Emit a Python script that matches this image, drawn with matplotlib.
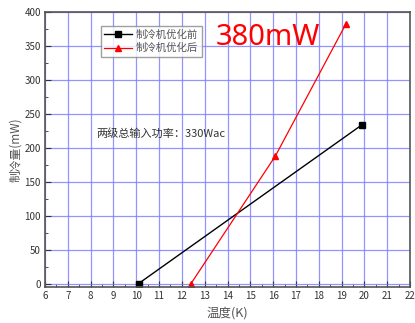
import matplotlib
matplotlib.use("Agg")
import matplotlib.pyplot as plt
from matplotlib.ticker import MultipleLocator

plt.rcParams['font.family'] = ['Noto Sans CJK SC', 'DejaVu Sans']

# data
temp_before = [10.1, 19.9]
cool_before = [0, 234]
temp_after = [12.4, 16.1, 19.2]
cool_after = [0, 188, 383]

label_before = "制冷机优化前"
label_after = "制冷机优化后"
note = "两级总输入功率：330Wac"
peak = "380mW"

fig = plt.figure(figsize=(4.15, 3.23), dpi=100)
ax = fig.add_axes([45 / 415, 36 / 323, 365 / 415, 275 / 323])

ax.set_xlim(6, 22)
ax.set_ylim(-5, 400)
ax.xaxis.set_major_locator(MultipleLocator(1))
ax.xaxis.set_minor_locator(MultipleLocator(0.5))
ax.yaxis.set_major_locator(MultipleLocator(50))
ax.yaxis.set_minor_locator(MultipleLocator(25))

ax.grid(True, which='major', color='#7a7aff', linewidth=0.9, alpha=0.8)
ax.set_axisbelow(True)

ax.plot(temp_before, cool_before, color='black', lw=1, marker='s', ms=4.5,
        label=label_before)
ax.plot(temp_after, cool_after, color='red', lw=0.9, marker='^', ms=5,
        label=label_after)

ax.tick_params(which='both', direction='in', top=False, right=False,
               labelsize=7, colors='#333333', pad=3)
ax.tick_params(which='major', length=4)
ax.tick_params(which='minor', length=2)
for sp in ax.spines.values():
    sp.set_color('#555555')
    sp.set_linewidth(1.2)

ax.set_xlabel("温度(K)", fontsize=9, color='#555555', labelpad=4)
ax.set_ylabel("制冷量(mW)", fontsize=8.5, color='#555555', labelpad=2)

leg = ax.legend(loc='upper left', bbox_to_anchor=(0.153, 0.95), fontsize=7.5,
                frameon=True, fancybox=False, edgecolor='#888888',
                handlelength=2.6, borderpad=0.35, labelspacing=0.35,
                handletextpad=0.4, borderaxespad=0)
for t in leg.get_texts():
    t.set_color('#555555')
leg.get_frame().set_linewidth(1)

ax.text(0.14, 0.545, note, transform=ax.transAxes, fontsize=8,
        color='#333333')
ax.text(0.468, 0.88, peak, transform=ax.transAxes, fontsize=21,
        color='red', family=['Noto Sans', 'DejaVu Sans'])

fig.savefig("out.png", dpi=100)
